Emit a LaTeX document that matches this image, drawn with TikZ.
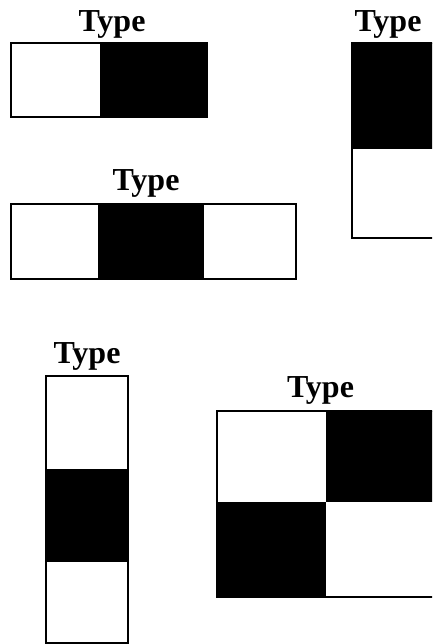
\documentclass[tikz,border=0pt]{standalone}
\usepackage{fontspec}
\setmainfont{Liberation Serif}
\begin{document}
\begin{tikzpicture}[x=1pt,y=-1pt,
  lbl/.style={font=\fontsize{32}{38}\selectfont\bfseries, anchor=base, inner sep=0pt},
  box/.style={draw=black, line width=1.2pt},
  blk/.style={fill=black}]
\path[use as bounding box] (0,0) rectangle (432,644);
\begin{scope}
\clip (0,0) rectangle (432,644);
% box 1
\fill[blk] (100,43) rectangle (207,117);
\draw[box] (11,43) rectangle (207,117);
% box 2
\fill[blk] (352,43) rectangle (440,149);
\draw[box] (352,43) rectangle (440,238);
% box 3
\fill[blk] (98,204) rectangle (204,279);
\draw[box] (11,204) rectangle (296,279);
% box 4
\fill[blk] (46,469) rectangle (128,562);
\draw[box] (46,376) rectangle (128,643);
% box 5
\fill[blk] (326,411) rectangle (440,502);
\fill[blk] (217,502) rectangle (326,597);
\draw[box] (217,411) rectangle (440,597);
\end{scope}
\node[lbl] (t1) at (112,32) {Type};
\node[lbl] (t2) at (388,31.5) {Type};
\node[lbl] (t3) at (146,190) {Type};
\node[lbl] (t4) at (87,363) {Type};
\node[lbl] (t5) at (320.5,397) {Type};
\end{tikzpicture}
\end{document}
